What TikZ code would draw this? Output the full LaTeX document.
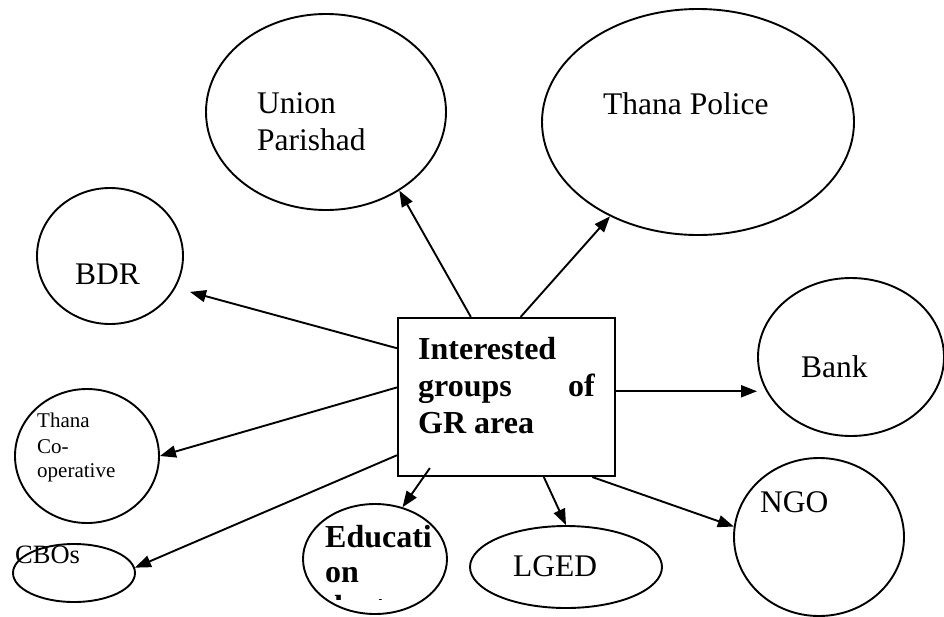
\documentclass[tikz,border=0pt]{standalone}
\usepackage{fontspec}
\setmainfont{Liberation Serif}
\usetikzlibrary{shapes.geometric,arrows.meta}
\begin{document}
\begin{tikzpicture}[x=1pt,y=-1pt,
  group/.style={draw,ellipse,line width=1.9pt,inner sep=0pt},
  hub/.style={draw,rectangle,line width=2.1pt,inner sep=0pt,minimum width=217pt,minimum height=158pt},
  lbl/.style={anchor=base west,inner sep=0pt,font=\fontsize{31.5}{37}\selectfont},
  boldlbl/.style={anchor=base west,inner sep=0pt,font=\fontsize{32}{37}\selectfont\bfseries},
  smalllbl/.style={anchor=base west,inner sep=0pt,font=\fontsize{21}{25}\selectfont},
  link/.style={line width=1.9pt,-{Triangle[length=16pt,width=12pt]}}]
\path[use as bounding box] (0,0) rectangle (944,616);
\clip (0,0) rectangle (944,616);

% surrounding bodies
\node[group,minimum width=240pt,minimum height=196pt] (union) at (326,112) {};
\node[group,minimum width=312pt,minimum height=226pt] (police) at (698,122) {};
\node[group,minimum width=146pt,minimum height=136pt] (bdr) at (110,256) {};
\node[group,minimum width=186pt,minimum height=158pt] (bank) at (851,357) {};
\node[group,minimum width=144pt,minimum height=134pt] (coop) at (87,456) {};
\node[group,minimum width=122pt,minimum height=58pt] (cbos) at (74,573) {};
\node[group,minimum width=144pt,minimum height=110pt] (edu) at (375,559) {};
\node[group,minimum width=192pt,minimum height=82pt] (lged) at (566,567) {};
\node[group,minimum width=170pt,minimum height=158pt] (ngo) at (819,537) {};

% central box
\node[hub] (box) at (506.5,397) {};

% labels
\node[lbl] (unionA) at (257,113) {Union};
\node[lbl] (unionB) at (257,150) {Parishad};
\node[lbl] (policeT) at (603,114) {Thana Police};
\node[lbl] (bdrT) at (75,284) {BDR};
\node[lbl] (bankT) at (801,377) {Bank};
\node[smalllbl] (coopA) at (37,427) {Thana};
\node[smalllbl] (coopB) at (37,453) {Co-};
\node[smalllbl] (coopC) at (37,477) {operative};
\node[anchor=base west,inner sep=0pt,font=\fontsize{26.5}{30}\selectfont] (cbosT) at (15,563) {CBOs};
\node[lbl] (lgedT) at (513,576) {LGED};
\node[lbl] (ngoT) at (760,512) {NGO};

\node[boldlbl] (boxA) at (418,359) {Interested};
\node[boldlbl] (boxB) at (418,396) {groups};
\node[boldlbl,anchor=base east] (boxC) at (595,396) {of};
\node[boldlbl] (boxD) at (418,433) {GR area};

% the third line of this label is cut by its frame
\begin{scope}
  \clip (300,490) rectangle (450,599);
  \node[boldlbl] (eduA) at (325,547) {Educati};
  \node[boldlbl] (eduB) at (325,582) {on};
  \node[boldlbl] (eduC) at (325,617) {dept.};
\end{scope}

% connectors
\draw[link] (box.114.8) -- (union.-47.6);
\draw[link] (box.80.3) -- (police.227);
\draw[link,shorten >=15pt] (box.156.1) -- (bdr.-26);
\draw[link] (box.3.2) -- (box.3.2 -| bank.west);
\draw[link] (box.175.8) -- (coop.east);
\draw[link] (box.208.5) -- (cbos.5);
\draw[link,shorten <=-11pt] (box.-136.2) -- (edu.62.5);
\draw[link] (box.-65.8) -- (lged.north);
\draw[link] (box.-43.4) -- (ngo.173.3);
\end{tikzpicture}
\end{document}
